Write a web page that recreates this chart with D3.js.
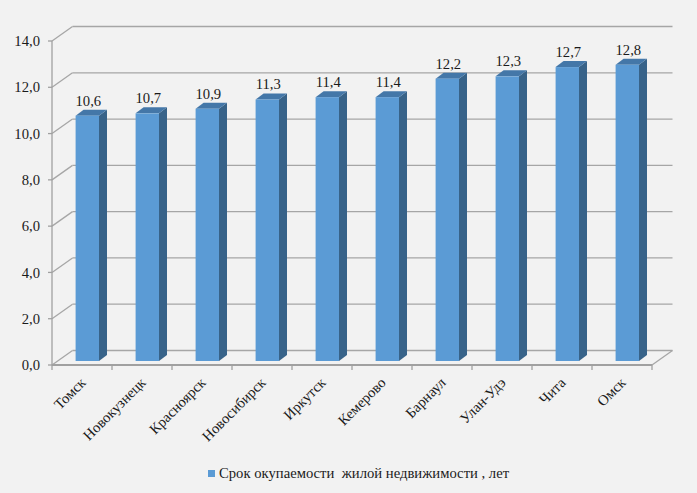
<!DOCTYPE html>
<html><head><meta charset="utf-8">
<script src="https://cdn.jsdelivr.net/npm/d3@7"></script>
<style>
html,body{margin:0;padding:0;background:#f2f2f2;}
svg{display:block;}
</style></head><body>
<svg id="chart" width="697" height="493"></svg>
<script>
const categories = ["Томск","Новокузнецк","Красноярск","Новосибирск","Иркутск","Кемерово","Барнаул","Улан-Удэ","Чита","Омск"];
const values = [10.6,10.7,10.9,11.3,11.4,11.4,12.2,12.3,12.7,12.8];
const yTicks = [0,2,4,6,8,10,12,14];
const seriesName = "Срок окупаемости  жилой недвижимости , лет";

(function(){
const FONT = "'Liberation Serif'";
const FS = 14.67;
const fmt = v => v.toFixed(1).replace(".", ",");
const svg = d3.select("#chart");
svg.append("rect").attr("width",697).attr("height",493).attr("fill","#f2f2f2");

const pLeft = 52, pRight = 652, pBottom = 365, pTop = 41;
const wallDx = 20.5, wallDy = -14.5;
const barDx = 5.3, barDy = -4;
const bDx = 8, bDy = -6;

const x = d3.scaleBand().domain(categories).range([pLeft, pRight]).paddingInner(0.61).paddingOuter(0.305);
const y = d3.scaleLinear().domain([0,14]).range([pBottom, pTop]);

const gridColor = "#a6a6a6";
const g = svg.append("g");
const txt = (sel) => sel.append("text").attr("font-family", FONT).attr("font-size", FS).attr("fill", "#1a1a1a");

yTicks.forEach(t => {
  const yf = y(t);
  g.append("line").attr("x1", pLeft + wallDx).attr("x2", pRight + wallDx)
    .attr("y1", yf + wallDy).attr("y2", yf + wallDy).attr("stroke", gridColor).attr("stroke-width", 1.3);
  g.append("line").attr("x1", pLeft).attr("y1", yf).attr("x2", pLeft + wallDx).attr("y2", yf + wallDy)
    .attr("stroke", gridColor).attr("stroke-width", 1.3);
});
g.append("line").attr("x1", pRight).attr("y1", y(0)).attr("x2", pRight + wallDx).attr("y2", y(0) + wallDy)
  .attr("stroke", gridColor).attr("stroke-width", 1.3);

g.append("line").attr("x1", pLeft).attr("x2", pLeft).attr("y1", y(14)).attr("y2", y(0))
  .attr("stroke", "#a0a0a0").attr("stroke-width", 1.3);
g.append("line").attr("x1", pLeft).attr("x2", pRight).attr("y1", y(0)).attr("y2", y(0))
  .attr("stroke", "#a0a0a0").attr("stroke-width", 2);

yTicks.forEach(t => {
  g.append("line").attr("x1", pLeft - 4).attr("x2", pLeft).attr("y1", y(t)).attr("y2", y(t))
    .attr("stroke", "#a0a0a0").attr("stroke-width", 1.3);
  txt(g).attr("x", 40).attr("y", y(t)).attr("dy", "0.35em").attr("text-anchor", "end").text(fmt(t));
});
const step = x.step();
d3.range(categories.length + 1).forEach(i => {
  const xx = pLeft + i * step;
  g.append("line").attr("x1", xx).attr("x2", xx).attr("y1", y(0)).attr("y2", y(0) + 5)
    .attr("stroke", "#a0a0a0").attr("stroke-width", 1.3);
});

const bars = g.selectAll("g.bar").data(categories.map((c,i)=>({c, v: values[i]}))).join("g");
bars.each(function(d){
  const sel = d3.select(this);
  const x0 = x(d.c) + barDx, bw = x.bandwidth();
  const yb = y(0) + barDy, yt = y(d.v) + barDy;
  sel.append("path").attr("d", `M${x0+bw},${yt} L${x0+bw+bDx},${yt+bDy} L${x0+bw+bDx},${yb+bDy} L${x0+bw},${yb} Z`)
    .attr("fill", "#386389");
  sel.append("path").attr("d", `M${x0},${yt} L${x0+bDx},${yt+bDy} L${x0+bw+bDx},${yt+bDy} L${x0+bw},${yt} Z`)
    .attr("fill", "#4477a8");
  sel.append("rect").attr("x", x0).attr("y", yt).attr("width", bw).attr("height", yb - yt)
    .attr("fill", "#5b9bd5");
  txt(sel).attr("x", x0 + bw/2 + 1).attr("y", yt - 10).attr("text-anchor", "middle").text(fmt(d.v));
});

categories.forEach(c => {
  const cx = x(c) + x.bandwidth()/2 + 1, cy = 380;
  txt(g).attr("transform", `translate(${cx},${cy}) rotate(-45)`)
    .attr("text-anchor", "end").attr("dy", "0.35em").text(c);
});

svg.append("rect").attr("x", 208).attr("y", 470).attr("width", 7).attr("height", 7).attr("fill", "#5b9bd5");
txt(svg).attr("x", 219).attr("y", 478).attr("xml:space", "preserve").style("white-space", "pre").text(seriesName);
})();
</script>
</body></html>
